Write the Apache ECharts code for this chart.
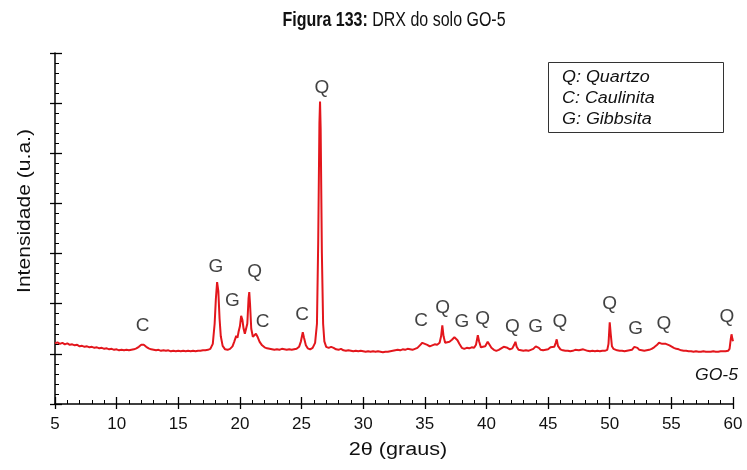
<!DOCTYPE html>
<html>
<head>
<meta charset="utf-8">
<script src="https://cdn.jsdelivr.net/npm/echarts@6/dist/echarts.min.js"></script>
<style>
html,body{margin:0;padding:0;background:#fff;}
#chart{width:747px;height:470px;}
</style>
</head>
<body>
<div id="chart"></div>
<script>
// ---- Data ----
const titleBold = 'Figura 133:';
const titleRest = ' DRX do solo GO-5';
const xAxisName = '2θ (graus)';
const yAxisName = 'Intensidade (u.a.)';
const sampleName = 'GO-5';
const legendLines = ['Q: Quartzo', 'C: Caulinita', 'G: Gibbsita'];
const xTicks = [5, 10, 15, 20, 25, 30, 35, 40, 45, 50, 55, 60];

// diffractogram: [2theta, intensity (a.u.)]
const pattern = [
[5.0,1.21],[5.2,1.23],[5.4,1.20],[5.6,1.22],[5.8,1.19],[6.0,1.21],[6.2,1.18],[6.4,1.19],[6.6,1.17],[6.8,1.18],
[7.0,1.15],[7.2,1.16],[7.4,1.14],[7.6,1.15],[7.8,1.13],[8.0,1.14],[8.2,1.12],[8.4,1.13],[8.6,1.11],[8.8,1.12],
[9.0,1.10],[9.2,1.11],[9.4,1.09],[9.6,1.10],[9.8,1.08],[10.0,1.09],[10.2,1.07],[10.4,1.08],[10.6,1.07],[10.8,1.08],
[11.0,1.07],[11.2,1.08],[11.4,1.09],[11.6,1.11],[11.8,1.14],[12.0,1.18],[12.1,1.19],[12.2,1.18],[12.4,1.14],[12.6,1.11],
[12.8,1.09],[13.0,1.08],[13.2,1.07],[13.4,1.08],[13.6,1.06],[13.8,1.07],[14.0,1.06],[14.2,1.07],[14.4,1.05],[14.6,1.06],
[14.8,1.05],[15.0,1.06],[15.2,1.05],[15.4,1.06],[15.6,1.05],[15.8,1.06],[16.0,1.05],[16.2,1.06],[16.4,1.05],[16.6,1.06],
[16.8,1.06],[17.0,1.07],[17.2,1.07],[17.4,1.08],[17.6,1.10],[17.8,1.20],[17.95,1.60],[18.05,2.10],[18.15,2.43],[18.25,2.25],
[18.35,1.70],[18.45,1.35],[18.6,1.16],[18.8,1.09],[19.0,1.08],[19.2,1.10],[19.4,1.15],[19.55,1.25],[19.7,1.36],[19.8,1.32],
[19.9,1.45],[20.0,1.55],[20.1,1.76],[20.2,1.68],[20.3,1.50],[20.4,1.40],[20.5,1.38],[20.6,1.60],[20.7,2.10],[20.76,2.23],
[20.82,2.00],[20.92,1.50],[21.05,1.34],[21.15,1.36],[21.3,1.40],[21.45,1.33],[21.6,1.24],[21.8,1.17],[22.0,1.13],[22.2,1.11],
[22.4,1.10],[22.6,1.09],[22.8,1.08],[23.0,1.09],[23.2,1.08],[23.4,1.10],[23.6,1.09],[23.8,1.08],[24.0,1.09],[24.2,1.08],
[24.4,1.09],[24.6,1.10],[24.8,1.14],[24.95,1.25],[25.1,1.43],[25.2,1.32],[25.35,1.17],[25.5,1.11],[25.7,1.09],[25.9,1.12],
[26.1,1.22],[26.25,1.60],[26.35,3.20],[26.45,5.60],[26.5,6.03],[26.55,5.50],[26.65,3.00],[26.75,1.60],[26.85,1.25],[27.0,1.14],
[27.2,1.12],[27.4,1.14],[27.6,1.12],[27.8,1.09],[28.0,1.08],[28.2,1.10],[28.4,1.07],[28.6,1.06],[28.8,1.07],[29.0,1.06],
[29.2,1.05],[29.4,1.06],[29.6,1.05],[29.8,1.06],[30.0,1.05],[30.2,1.04],[30.4,1.05],[30.6,1.04],[30.8,1.05],[31.0,1.04],
[31.2,1.05],[31.4,1.04],[31.6,1.03],[31.8,1.04],[32.0,1.04],[32.2,1.05],[32.4,1.06],[32.6,1.07],[32.8,1.08],[33.0,1.07],
[33.2,1.09],[33.4,1.08],[33.6,1.10],[33.8,1.09],[34.0,1.08],[34.2,1.10],[34.4,1.12],[34.6,1.17],[34.8,1.22],[34.9,1.24],
[35.0,1.20],[35.2,1.18],[35.4,1.15],[35.6,1.17],[35.8,1.19],[36.0,1.18],[36.2,1.22],[36.32,1.35],[36.42,1.57],[36.52,1.35],
[36.65,1.22],[36.8,1.19],[37.0,1.24],[37.2,1.28],[37.4,1.33],[37.5,1.30],[37.65,1.27],[37.8,1.20],[38.0,1.12],[38.2,1.10],
[38.4,1.12],[38.6,1.11],[38.8,1.13],[39.0,1.12],[39.15,1.18],[39.3,1.37],[39.4,1.25],[39.55,1.13],[39.7,1.10],[39.9,1.15],
[40.1,1.24],[40.25,1.18],[40.4,1.12],[40.6,1.08],[40.8,1.06],[41.0,1.08],[41.2,1.11],[41.4,1.14],[41.55,1.16],[41.7,1.12],
[41.9,1.09],[42.1,1.11],[42.25,1.18],[42.35,1.24],[42.45,1.14],[42.6,1.08],[42.8,1.07],[43.0,1.06],[43.2,1.07],[43.4,1.06],
[43.6,1.08],[43.8,1.10],[44.0,1.15],[44.1,1.17],[44.25,1.12],[44.4,1.08],[44.6,1.07],[44.8,1.08],[45.0,1.09],[45.2,1.13],
[45.35,1.16],[45.5,1.14],[45.62,1.22],[45.7,1.29],[45.8,1.16],[46.0,1.09],[46.2,1.07],[46.4,1.06],[46.6,1.06],[46.8,1.05],
[47.0,1.06],[47.2,1.08],[47.35,1.09],[47.5,1.07],[47.65,1.06],[47.85,1.09],[48.0,1.08],[48.2,1.06],[48.4,1.05],[48.6,1.06],
[48.8,1.05],[49.0,1.06],[49.2,1.05],[49.4,1.06],[49.6,1.06],[49.8,1.08],[49.9,1.20],[50.0,1.63],[50.08,1.40],[50.18,1.15],
[50.3,1.10],[50.45,1.09],[50.6,1.07],[50.8,1.06],[51.0,1.06],[51.2,1.05],[51.4,1.06],[51.6,1.07],[51.8,1.08],[52.0,1.14],
[52.1,1.17],[52.25,1.12],[52.4,1.08],[52.6,1.07],[52.8,1.06],[53.0,1.07],[53.2,1.08],[53.4,1.10],[53.6,1.13],[53.8,1.17],
[54.0,1.22],[54.1,1.24],[54.25,1.20],[54.4,1.18],[54.55,1.20],[54.7,1.21],[54.85,1.17],[55.0,1.15],[55.2,1.12],[55.4,1.10],
[55.6,1.09],[55.8,1.07],[56.0,1.06],[56.2,1.06],[56.4,1.05],[56.6,1.05],[56.8,1.04],[57.0,1.05],[57.2,1.04],[57.4,1.04],
[57.6,1.05],[57.8,1.04],[58.0,1.04],[58.2,1.04],[58.4,1.05],[58.6,1.04],[58.8,1.04],[59.0,1.05],[59.2,1.05],[59.4,1.05],
[59.6,1.06],[59.72,1.10],[59.82,1.30],[59.88,1.39],[59.95,1.30],[60.0,1.25]
];

// peak identification labels
const peakPhase  = ['C', 'G', 'G', 'Q', 'C', 'C', 'Q', 'C', 'Q', 'G', 'Q', 'Q', 'G', 'Q', 'Q', 'G', 'Q', 'Q'];
const peakLabelX = [12.1, 18.05, 19.4, 21.2, 21.85, 25.05, 26.65, 34.7, 36.45, 38.0, 39.7, 42.1, 44.0, 45.95, 50.0, 52.1, 54.4, 59.5];
const peakLabelY = [1.56, 2.74, 2.06, 2.64, 1.64, 1.78, 6.30, 1.66, 1.92, 1.64, 1.70, 1.54, 1.54, 1.64, 2.00, 1.50, 1.60, 1.74];

// ---- Chart ----
const FONT = '"Liberation Sans", Arial, sans-serif';
const chart = echarts.init(document.getElementById('chart'), null, {renderer: 'canvas'});
const labelData = peakPhase.map((p, i) => ({value: [peakLabelX[i], peakLabelY[i]], name: p}));

const axisCommon = {
  type: 'value', min: 5, max: 60, interval: 5,
  splitLine: {show: false}
};

chart.setOption({
  animation: false,
  backgroundColor: '#fff',
  grid: {left: 55, right: 14, top: 53, bottom: 66, containLabel: false},
  xAxis: [
    Object.assign({}, axisCommon, {
      position: 'bottom',
      axisLine: {show: true, onZero: false, lineStyle: {color: '#000', width: 1.5}},
      axisTick: {show: true, inside: true, length: 7, lineStyle: {color: '#000', width: 1.3}},
      minorTick: {show: true, splitNumber: 5, length: 4, lineStyle: {color: '#000', width: 1}},
      axisLabel: {show: true, color: '#111', fontFamily: FONT, fontSize: 17, margin: 12,
        formatter: v => (xTicks.indexOf(v) >= 0 ? String(v) : '')}
    }),
    Object.assign({}, axisCommon, {
      position: 'bottom', offset: 0,
      axisLine: {show: false, onZero: false},
      axisTick: {show: true, inside: false, length: 5, lineStyle: {color: '#000', width: 1.3}},
      axisLabel: {show: false}
    })
  ],
  yAxis: [
    {
      type: 'value', min: 0, max: 7, interval: 1, position: 'left',
      splitLine: {show: false},
      axisLine: {show: true, onZero: false, lineStyle: {color: '#000', width: 1.5}},
      axisTick: {show: true, inside: true, length: 7, lineStyle: {color: '#000', width: 1.3}},
      minorTick: {show: true, splitNumber: 5, length: 4, lineStyle: {color: '#000', width: 1}},
      axisLabel: {show: false}
    },
    {
      type: 'value', min: 0, max: 7, interval: 1, position: 'left', offset: 0,
      splitLine: {show: false},
      axisLine: {show: false, onZero: false},
      axisTick: {show: true, inside: false, length: 5, lineStyle: {color: '#000', width: 1.3}},
      axisLabel: {show: false}
    }
  ],
  series: [
    {
      type: 'line', xAxisIndex: 0, yAxisIndex: 0,
      data: pattern, showSymbol: false, symbol: 'none',
      lineStyle: {color: '#e3161c', width: 2},
      z: 3
    },
    {
      type: 'scatter', xAxisIndex: 0, yAxisIndex: 0,
      data: labelData, symbolSize: 2,
      itemStyle: {color: 'rgba(255,255,255,0)'},
      label: {show: true, position: 'inside', formatter: p => p.name,
        color: '#111', fontFamily: FONT, fontSize: 19},
      z: 4
    }
  ],
  graphic: [
    {type: 'text', x: 394, y: 20, scaleX: 0.8, style: {
      text: '{b|' + titleBold + '}{n|' + titleRest + '}',
      align: 'center', verticalAlign: 'middle',
      rich: {
        b: {fontFamily: FONT, fontWeight: 'bold', fontSize: 20, fill: '#111'},
        n: {fontFamily: FONT, fontSize: 20, fill: '#111'}
      }
    }},
    {type: 'text', x: 398, y: 450, scaleX: 1.2, style: {
      text: xAxisName, align: 'center', verticalAlign: 'middle',
      fontFamily: FONT, fontSize: 18, fill: '#111'
    }},
    {type: 'text', x: 25, y: 211, rotation: Math.PI / 2, scaleX: 1.17, style: {
      text: yAxisName, align: 'center', verticalAlign: 'middle',
      fontFamily: FONT, fontSize: 18, fill: '#111'
    }},
    {type: 'rect', shape: {x: 548.5, y: 62.5, width: 175, height: 70},
      style: {fill: '#fff', stroke: '#333', lineWidth: 1}, z: 10},
    {type: 'text', x: 562, y: 78, z: 11, scaleX: 1.12, style: {text: legendLines[0], verticalAlign: 'middle',
      fontFamily: FONT, fontStyle: 'italic', fontSize: 16, fill: '#111'}},
    {type: 'text', x: 562, y: 99, z: 11, scaleX: 1.12, style: {text: legendLines[1], verticalAlign: 'middle',
      fontFamily: FONT, fontStyle: 'italic', fontSize: 16, fill: '#111'}},
    {type: 'text', x: 562, y: 120, z: 11, scaleX: 1.12, style: {text: legendLines[2], verticalAlign: 'middle',
      fontFamily: FONT, fontStyle: 'italic', fontSize: 16, fill: '#111'}},
    {type: 'text', x: 738, y: 376, z: 11, scaleX: 1.1, style: {text: sampleName, align: 'right', verticalAlign: 'middle',
      fontFamily: FONT, fontStyle: 'italic', fontSize: 16, fill: '#111'}}
  ]
});
</script>
</body>
</html>
